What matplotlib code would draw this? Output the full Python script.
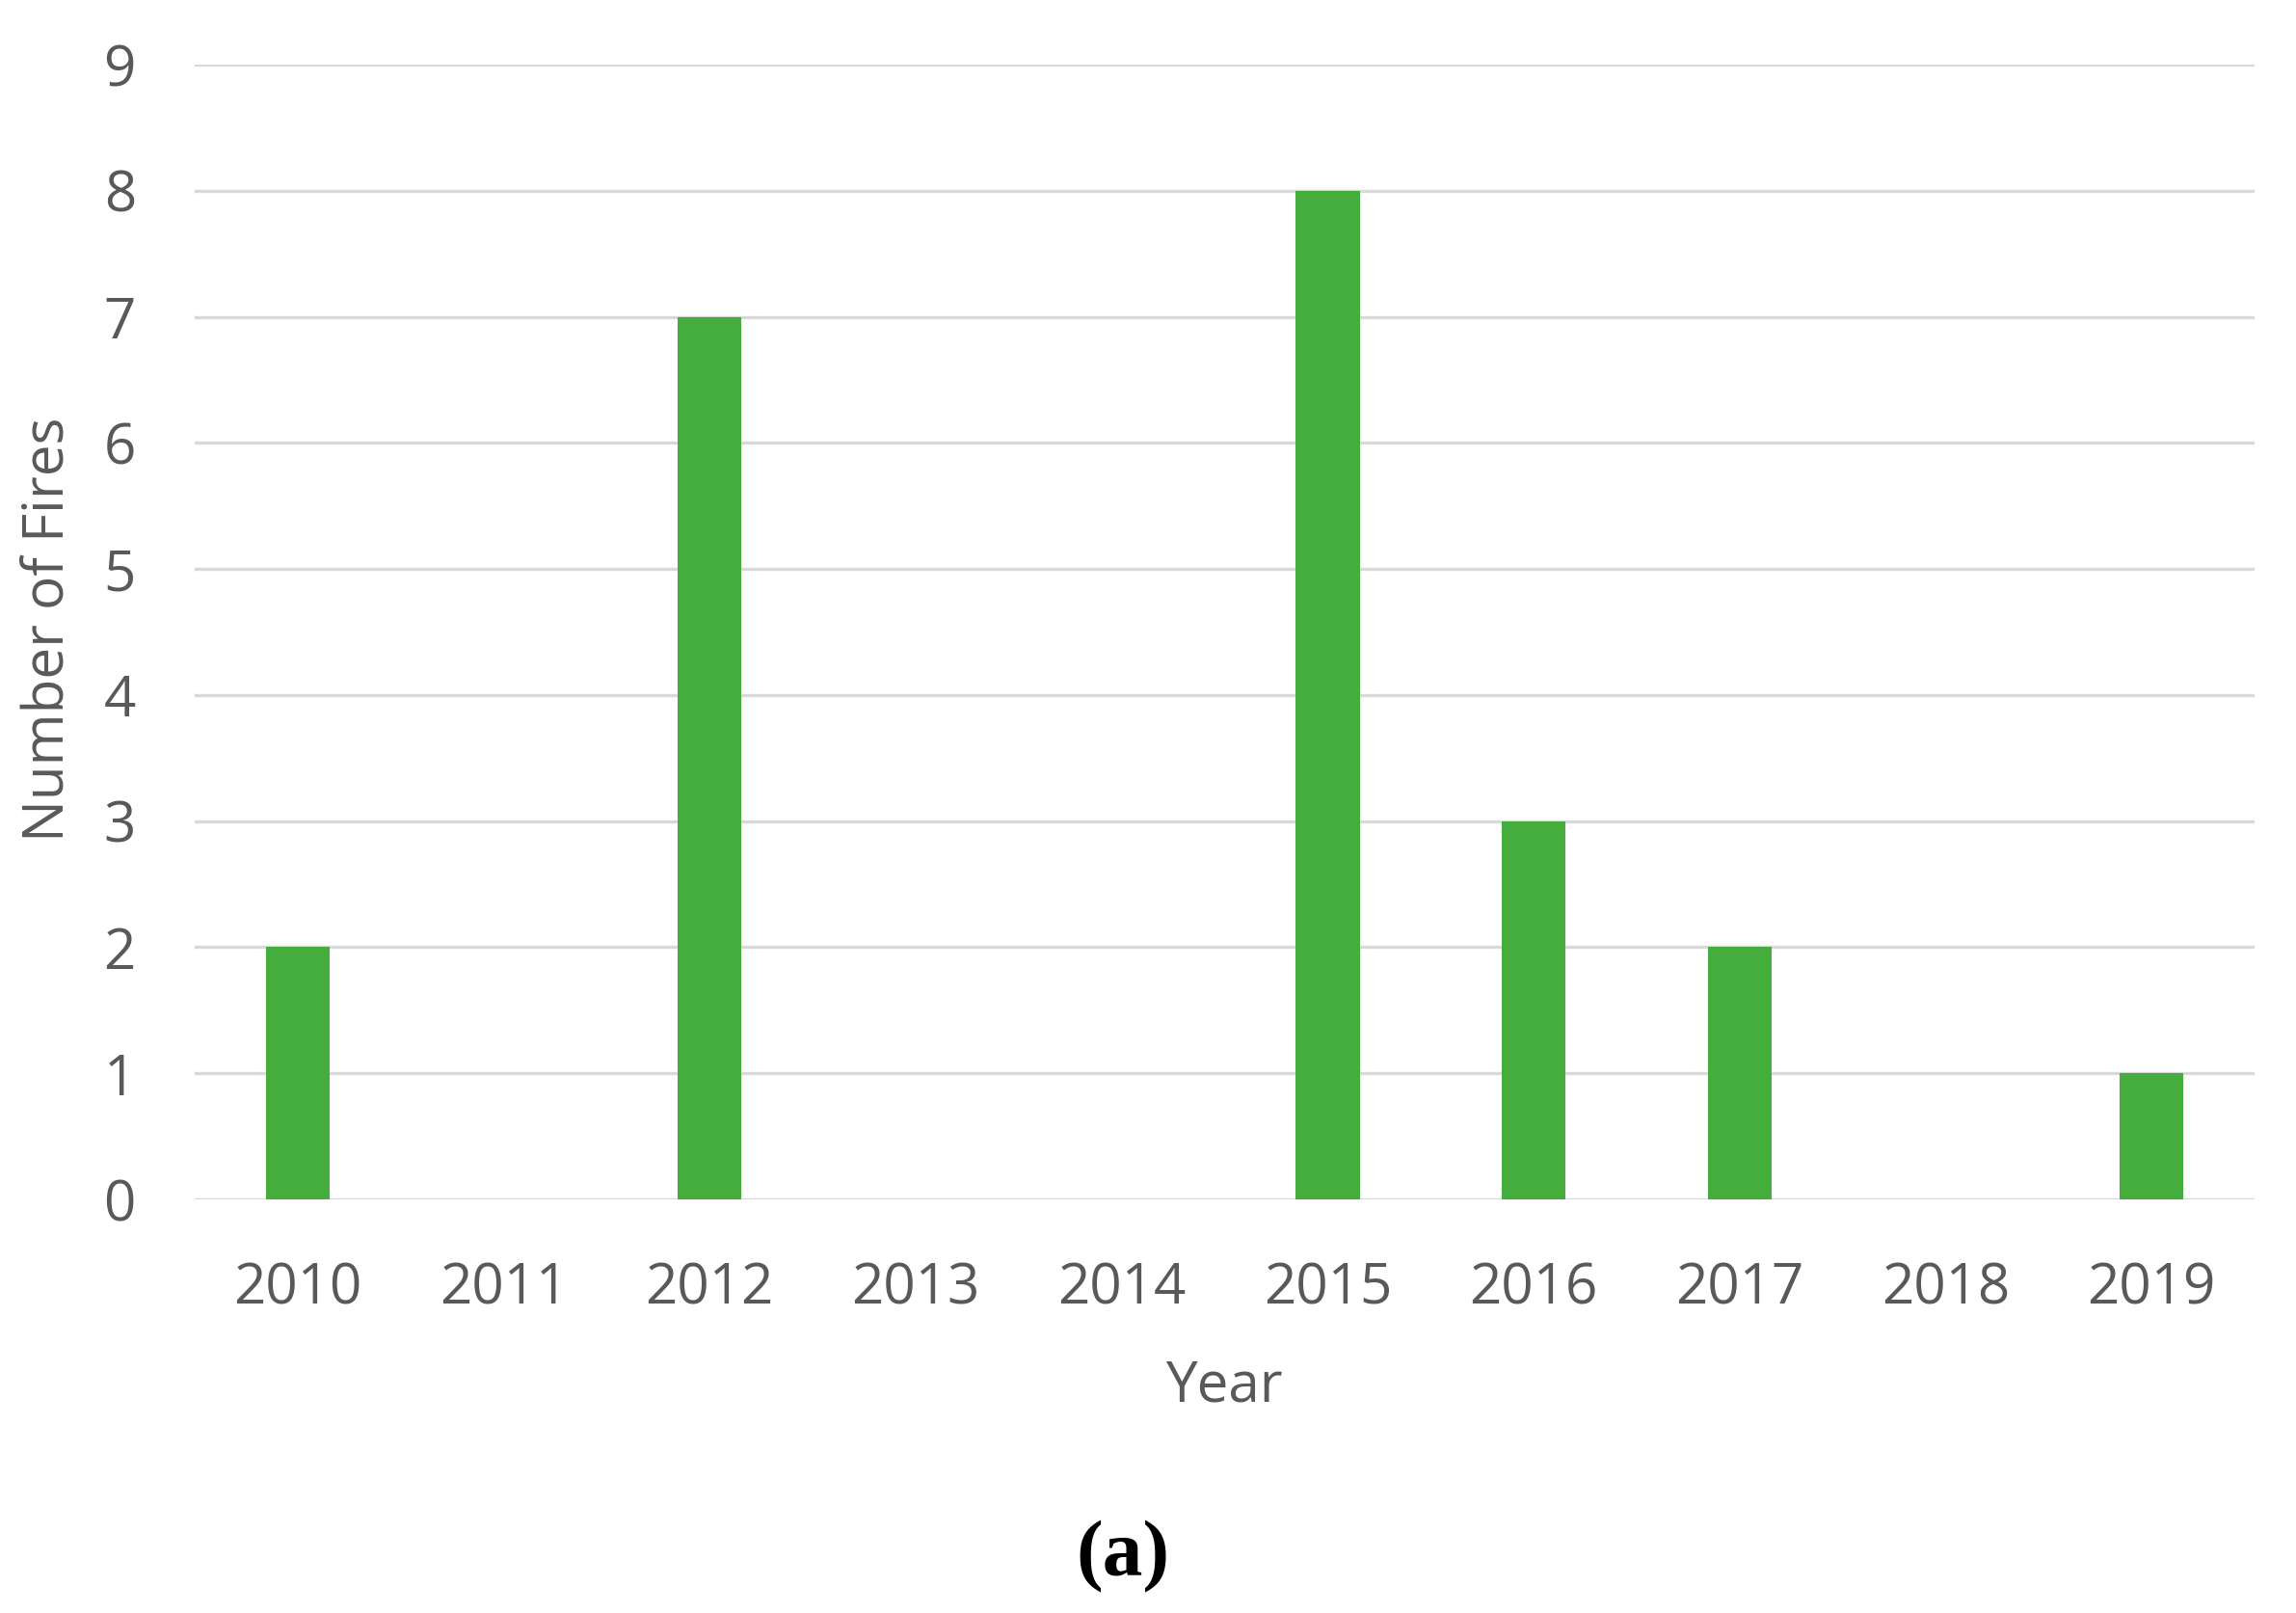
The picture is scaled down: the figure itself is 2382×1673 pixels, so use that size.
import matplotlib.pyplot as plt

years = ['2010', '2011', '2012', '2013', '2014', '2015', '2016', '2017', '2018', '2019']
fires = [2, 0, 7, 0, 0, 8, 3, 2, 0, 1]
y_ticks = [0, 1, 2, 3, 4, 5, 6, 7, 8, 9]

text_color = '#595959'
bar_color = '#44AD3B'
grid_color = '#D9D9D9'

plt.rcParams['font.family'] = ['Open Sans', 'DejaVu Sans']

fig = plt.figure(figsize=(23.82, 16.73), dpi=100)
ax = fig.add_axes([0.0848, 0.2564, 0.8972, 0.7036])

x = range(len(years))
ax.bar(x, fires, width=0.31, color=bar_color, zorder=3)

ax.set_xlim(-0.5, len(years) - 0.5)
ax.set_ylim(0, 9)
ax.set_xticks(list(x))
ax.set_xticklabels(years)
ax.set_yticks(y_ticks)

ax.grid(axis='y', color=grid_color, linewidth=2.4, zorder=0)
for side in ['top', 'right', 'left', 'bottom']:
    ax.spines[side].set_visible(False)
ax.tick_params(axis='both', length=0, labelsize=42, colors=text_color)
ax.tick_params(axis='y', pad=44)
ax.tick_params(axis='x', pad=46)

# axis titles placed in figure coords
fig.text(0.0215, 0.61, 'Number of Fires', fontsize=42, color=text_color,
         rotation=90, ha='center', va='center')
fig.text(0.533, 0.1405, 'Year', fontsize=42, color=text_color,
         ha='center', va='center')

fig.text(0.489, 0.035, '(a)', family='Liberation Serif', fontweight='bold',
         fontsize=60, ha='center', va='center')

plt.savefig('out.png', dpi=100, facecolor='white')
